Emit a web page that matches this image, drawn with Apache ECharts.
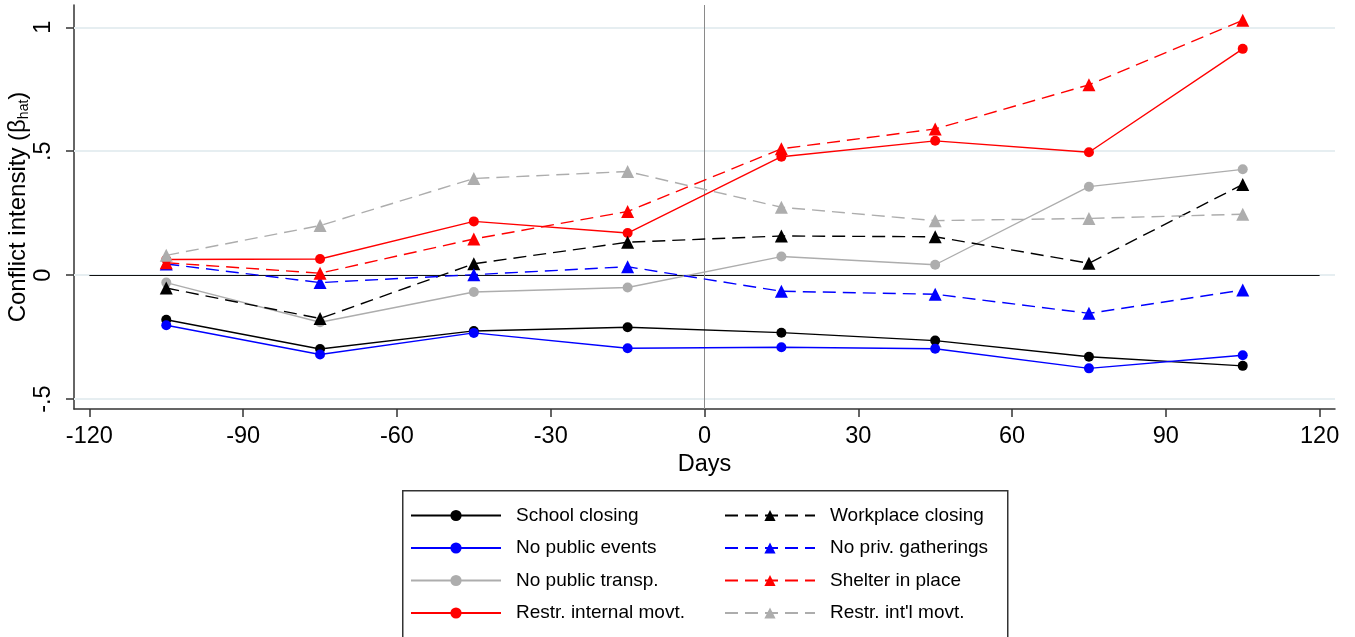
<!DOCTYPE html>
<html>
<head>
<meta charset="utf-8">
<script src="https://cdn.jsdelivr.net/npm/echarts@6/dist/echarts.min.js"></script>
<style>
html,body{margin:0;padding:0;background:#fff;}
#chart{width:1355px;height:637px;}
</style>
</head>
<body>
<div id="chart"></div>
<script>
// ---- data ----
const days = [-105, -75, -45, -15, 15, 45, 75, 105];
const schoolClosing      = [-0.180, -0.298, -0.225, -0.210, -0.232, -0.264, -0.329, -0.366];
const noPublicEvents     = [-0.202, -0.320, -0.233, -0.295, -0.291, -0.297, -0.376, -0.323];
const noPublicTransp     = [-0.030, -0.190, -0.068, -0.050, 0.075, 0.042, 0.357, 0.427];
const restrInternalMovt  = [0.063, 0.065, 0.217, 0.170, 0.478, 0.542, 0.496, 0.913];
const workplaceClosing   = [-0.052, -0.175, 0.046, 0.133, 0.158, 0.155, 0.048, 0.366];
const noPrivGatherings   = [0.045, -0.030, 0.002, 0.034, -0.065, -0.077, -0.154, -0.060];
const shelterInPlace     = [0.050, 0.008, 0.146, 0.257, 0.510, 0.590, 0.768, 1.028];
const restrIntlMovt      = [0.080, 0.200, 0.390, 0.418, 0.274, 0.220, 0.229, 0.246];
const xTicks = [-120, -90, -60, -30, 0, 30, 60, 90, 120];
const yTicks = [-0.5, 0, 0.5, 1];
const yTickLabels = {'-0.5': '-.5', '0': '0', '0.5': '.5', '1': '1'};

const FONT = 'Liberation Sans, Arial, sans-serif';
const GRAY = '#adadad';

function pairs(vals){ return days.map((d,i)=>[d, vals[i]]); }

function mk(name, vals, color, dashed){
  return {
    name: name,
    type: 'line',
    data: pairs(vals),
    symbol: dashed ? 'triangle' : 'circle',
    symbolSize: dashed ? 13 : 10,
    showAllSymbol: true,
    itemStyle: {color: color},
    lineStyle: {color: color, width: 1.4, type: dashed ? [13, 7] : 'solid'},
    emphasis: {disabled: true},
    z: 5
  };
}

const series = [
  {
    name: '_ref', type: 'line', data: [], silent: true, z: 1,
    markLine: {
      silent: true, symbol: ['none','none'], label: {show:false},
      data: [
        {yAxis: -0.5, lineStyle:{color:'#e6eef1', width:2, type:'solid'}},
        {yAxis: 0, lineStyle:{color:'#e6eef1', width:2, type:'solid'}},
        {yAxis: 0.5, lineStyle:{color:'#e6eef1', width:2, type:'solid'}},
        {yAxis: 1, lineStyle:{color:'#e6eef1', width:2, type:'solid'}},
        [{coord:[-120,0], lineStyle:{color:'#111', width:1.2, type:'solid'}}, {coord:[120,0]}],
        {xAxis: 0, lineStyle:{color:'#8a8a8a', width:1, type:'solid'}}
      ]
    }
  },
  mk('School closing', schoolClosing, '#000000', false),
  mk('No public events', noPublicEvents, '#0000ff', false),
  mk('No public transp.', noPublicTransp, GRAY, false),
  mk('Restr. internal movt.', restrInternalMovt, '#ff0000', false),
  mk('Workplace closing', workplaceClosing, '#000000', true),
  mk('No priv. gatherings', noPrivGatherings, '#0000ff', true),
  mk('Shelter in place', shelterInPlace, '#ff0000', true),
  mk("Restr. int'l movt.", restrIntlMovt, GRAY, true)
];

function legendCfg(left, names){
  return {
    orient: 'vertical', left: left, top: 501,
    itemWidth: 90, itemHeight: 14, itemGap: 13.5,
    selectedMode: false,
    data: names,
    textStyle: {fontFamily: FONT, fontSize: 19, color: '#000', lineHeight: 19, padding: [0,0,0,10]}
  };
}

const chart = echarts.init(document.getElementById('chart'), null, {renderer: 'canvas'});
chart.setOption({
  animation: false,
  backgroundColor: '#fff',
  grid: {left: 74, right: 20, top: 5, bottom: 228, containLabel: false, outerBoundsMode: 'none'},
  xAxis: {
    type: 'value', min: -123, max: 123,
    name: 'Days', nameLocation: 'middle', nameGap: 44, nameMoveOverlap: false,
    nameTextStyle: {fontFamily: FONT, fontSize: 23.5, color: '#000'},
    axisLine: {show: true, onZero: false, lineStyle: {color: '#333', width: 1.5}},
    axisTick: {show: true, length: 8, customValues: xTicks, lineStyle: {color: '#333', width: 1.5}},
    axisLabel: {customValues: xTicks, fontFamily: FONT, fontSize: 23.5, color: '#000', margin: 16},
    splitLine: {show: false}
  },
  yAxis: {
    type: 'value', min: -0.54, max: 1.09,
    name: '{a|Conflict intensity (β}{s|hat}{a|)}', nameLocation: 'middle', nameGap: 43, nameMoveOverlap: false,
    nameTextStyle: {rich: {
      a: {fontFamily: FONT, fontSize: 24, color: '#000'},
      s: {fontFamily: FONT, fontSize: 14, color: '#000', verticalAlign: 'bottom', padding: [12,0,0,0]}
    }},
    axisLine: {show: true, onZero: false, lineStyle: {color: '#333', width: 1.5}},
    axisTick: {show: true, length: 8, customValues: yTicks, lineStyle: {color: '#333', width: 1.5}},
    axisLabel: {customValues: yTicks, rotate: 90, fontFamily: FONT, fontSize: 23.5, color: '#000', margin: 18,
      formatter: v => yTickLabels[String(v)] !== undefined ? yTickLabels[String(v)] : ''},
    splitLine: {show: false}
  },
  legend: [
    legendCfg(405, ['School closing','No public events','No public transp.','Restr. internal movt.']),
    legendCfg(719, ['Workplace closing','No priv. gatherings','Shelter in place',"Restr. int'l movt."])
  ],
  graphic: [{
    type: 'rect', left: 402, top: 490, z: 0,
    shape: {x: 0, y: 0, width: 605, height: 160},
    style: {fill: '#fff', stroke: '#333', lineWidth: 1.5}
  }],
  series: series
});
</script>
</body>
</html>
